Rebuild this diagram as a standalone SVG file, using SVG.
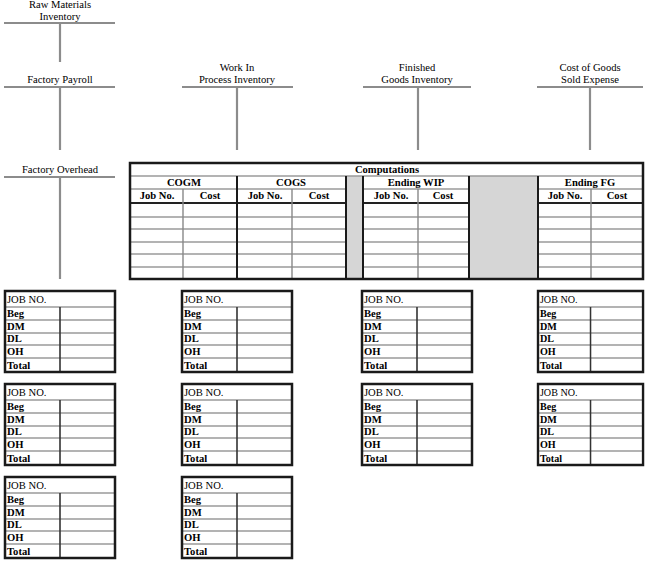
<svg xmlns="http://www.w3.org/2000/svg" width="661" height="564" viewBox="0 0 661 564" font-family="'Liberation Serif', 'DejaVu Serif', serif">
<defs>
<style>
text{font-family:'Liberation Serif','Times New Roman','DejaVu Serif',serif;font-size:10.6px;fill:#000}
.t{text-anchor:middle}
.h{font-weight:bold;text-anchor:middle}
.b{font-weight:bold}
.tl{stroke:#8c8c8c;stroke-width:2.2;fill:none}
.ob{fill:none;stroke:#1a1a1a;stroke-width:2.5}
.rl{stroke:#9a9a9a;stroke-width:1.6}
.cd{stroke:#333;stroke-width:1.6}
.gd{stroke:#888;stroke-width:1.4}
.gf{fill:#d6d6d6}
</style>
<g id="card">
<rect x="0" y="0" width="110" height="81" fill="#fff"/>
<line class="rl" x1="0" y1="16" x2="110" y2="16"/>
<line class="rl" x1="0" y1="29" x2="110" y2="29"/>
<line class="rl" x1="0" y1="42" x2="110" y2="42"/>
<line class="rl" x1="0" y1="54" x2="110" y2="54"/>
<line class="rl" x1="0" y1="67" x2="110" y2="67"/>
<line class="cd" x1="55" y1="16" x2="55" y2="81"/>
<rect class="ob" x="0" y="0" width="110" height="81"/>
<text x="2" y="12">JOB NO.</text>
<text class="b" x="2" y="26">Beg</text>
<text class="b" x="2" y="39">DM</text>
<text class="b" x="2" y="51">DL</text>
<text class="b" x="2" y="64">OH</text>
<text class="b" x="2" y="78">Total</text>
</g>
</defs>

<g id="raw-materials">
<text class="t" x="60" y="8">Raw Materials</text>
<text class="t" x="60" y="20">Inventory</text>
<line class="tl" x1="4" y1="23" x2="115" y2="23"/>
<line class="tl" x1="60" y1="23" x2="60" y2="62"/>
</g>
<g id="factory-payroll">
<text class="t" x="60" y="83">Factory Payroll</text>
<line class="tl" x1="4" y1="87" x2="115" y2="87"/>
<line class="tl" x1="60" y1="87" x2="60" y2="150"/>
</g>
<g id="factory-overhead">
<text class="t" x="60" y="173">Factory Overhead</text>
<line class="tl" x1="4" y1="177" x2="115" y2="177"/>
<line class="tl" x1="60" y1="177" x2="60" y2="279"/>
</g>
<g id="wip">
<text class="t" x="237" y="71">Work In</text>
<text class="t" x="237" y="83">Process Inventory</text>
<line class="tl" x1="182" y1="87" x2="293" y2="87"/>
<line class="tl" x1="237" y1="87" x2="237" y2="150"/>
</g>
<g id="finished-goods">
<text class="t" x="417" y="71">Finished</text>
<text class="t" x="417" y="83">Goods Inventory</text>
<line class="tl" x1="363" y1="87" x2="471" y2="87"/>
<line class="tl" x1="418" y1="87" x2="418" y2="150"/>
</g>
<g id="cogs-expense">
<text class="t" x="590" y="71">Cost of Goods</text>
<text class="t" x="590" y="83">Sold Expense</text>
<line class="tl" x1="537" y1="87" x2="643" y2="87"/>
<line class="tl" x1="590" y1="87" x2="590" y2="150"/>
</g>

<g id="computations">
<rect x="130" y="163" width="513" height="116" fill="#fff"/>
<rect class="gf" x="346" y="176" width="17" height="103"/>
<rect class="gf" x="469" y="176" width="69" height="103"/>
<line class="rl" x1="130" y1="176" x2="643" y2="176"/>
<g class="rl">
<line x1="130" y1="189" x2="346" y2="189"/><line x1="363" y1="189" x2="469" y2="189"/><line x1="538" y1="189" x2="643" y2="189"/>
<line x1="130" y1="217" x2="346" y2="217"/><line x1="363" y1="217" x2="469" y2="217"/><line x1="538" y1="217" x2="643" y2="217"/>
<line x1="130" y1="229" x2="346" y2="229"/><line x1="363" y1="229" x2="469" y2="229"/><line x1="538" y1="229" x2="643" y2="229"/>
<line x1="130" y1="242" x2="346" y2="242"/><line x1="363" y1="242" x2="469" y2="242"/><line x1="538" y1="242" x2="643" y2="242"/>
<line x1="130" y1="254" x2="346" y2="254"/><line x1="363" y1="254" x2="469" y2="254"/><line x1="538" y1="254" x2="643" y2="254"/>
<line x1="130" y1="267" x2="346" y2="267"/><line x1="363" y1="267" x2="469" y2="267"/><line x1="538" y1="267" x2="643" y2="267"/>
</g>
<g stroke="#222" stroke-width="2.2">
<line x1="130" y1="203" x2="346" y2="203"/><line x1="363" y1="203" x2="469" y2="203"/><line x1="538" y1="203" x2="643" y2="203"/>
</g>
<g class="gd">
<line x1="183" y1="189" x2="183" y2="279"/>
<line x1="292" y1="189" x2="292" y2="279"/>
<line x1="418" y1="189" x2="418" y2="279"/>
<line x1="591" y1="189" x2="591" y2="279"/>
</g>
<g stroke="#1a1a1a" stroke-width="2">
<line x1="237" y1="176" x2="237" y2="279"/>
<line x1="346" y1="176" x2="346" y2="279"/>
<line x1="363" y1="176" x2="363" y2="279"/>
<line x1="469" y1="176" x2="469" y2="279"/>
<line x1="538" y1="176" x2="538" y2="279"/>
</g>
<rect class="ob" x="130" y="163" width="513" height="116"/>
<text class="h" x="387" y="173">Computations</text>
<text class="h" x="184" y="186">COGM</text>
<text class="h" x="291" y="186">COGS</text>
<text class="h" x="416" y="186">Ending WIP</text>
<text class="h" x="590" y="186">Ending FG</text>
<text class="h" x="157" y="199">Job No.</text>
<text class="h" x="210" y="199">Cost</text>
<text class="h" x="265" y="199">Job No.</text>
<text class="h" x="319" y="199">Cost</text>
<text class="h" x="391" y="199">Job No.</text>
<text class="h" x="443" y="199">Cost</text>
<text class="h" x="565" y="199">Job No.</text>
<text class="h" x="617" y="199">Cost</text>
</g>

<g id="job-1-1"><use href="#card" x="5" y="291"/></g>
<g id="job-1-2"><use href="#card" x="182" y="291"/></g>
<g id="job-1-3"><use href="#card" x="362" y="291"/></g>
<g id="job-1-4"><use href="#card" x="538" y="291" transform="translate(538 291) scale(0.955 1) translate(-538 -291)"/></g>
<g id="job-2-1"><use href="#card" x="5" y="384"/></g>
<g id="job-2-2"><use href="#card" x="182" y="384"/></g>
<g id="job-2-3"><use href="#card" x="362" y="384"/></g>
<g id="job-2-4"><use href="#card" x="538" y="384" transform="translate(538 384) scale(0.955 1) translate(-538 -384)"/></g>
<g id="job-3-1"><use href="#card" x="5" y="477"/></g>
<g id="job-3-2"><use href="#card" x="182" y="477"/></g>
</svg>
